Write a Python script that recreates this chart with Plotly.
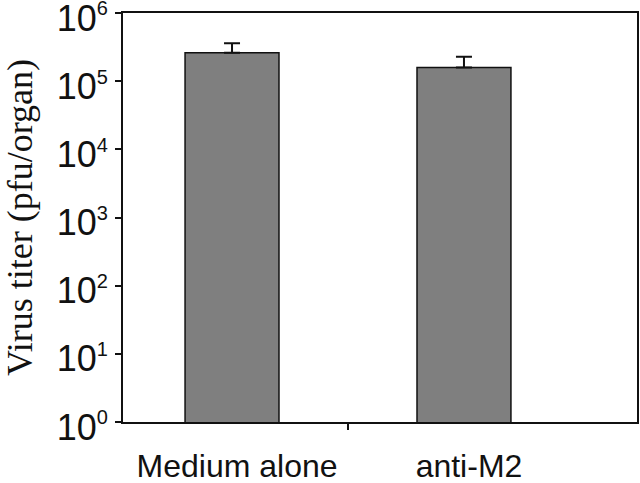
import plotly.graph_objects as go

categories = ["Medium alone", "anti-M2"]
x_pos = [0, 1]
titers = [2.62e5, 1.58e5]
errors = [0.98e5, 0.70e5]
y_tickvals = [1, 10, 100, 1000, 10000, 100000, 1000000]
y_ticktext = ["10<sup><span style='font-size:20px'>%d</span></sup>" % i for i in range(7)]

fig = go.Figure()
fig.add_trace(go.Bar(
    x=x_pos, y=titers, width=0.405,
    marker=dict(color="#7f7f7f", line=dict(color="#111111", width=1.5)),
    error_y=dict(type="data", array=errors, arrayminus=[0, 0], symmetric=False,
                 color="#111111", thickness=2, width=8),
))

fig.update_layout(
    width=640, height=483,
    margin=dict(l=123, r=3, t=13, b=61),
    paper_bgcolor="white", plot_bgcolor="white",
    showlegend=False,
    font=dict(family="Liberation Sans, Arial", color="#111111"),
)
fig.update_xaxes(
    range=[-0.47, 1.746], tickvals=x_pos, ticktext=categories,
    ticks="", tickfont=dict(size=32), showline=True, linecolor="#111111",
    linewidth=2, mirror=True, showgrid=False, zeroline=False,
    minor=dict(tickvals=[0.5], ticks="outside", ticklen=6, tickcolor="#111111", tickwidth=1.5),
    ticklabelstandoff=15, ticklabelshift=5, automargin=False, ticklabeloverflow="allow",
)
fig.update_yaxes(
    type="log", range=[0, 6], tickvals=y_tickvals, ticktext=y_ticktext,
    ticks="outside", ticklen=6, tickwidth=1.5, tickcolor="#111111",
    tickfont=dict(size=36), showline=True, linecolor="#111111", linewidth=2,
    mirror=True, showgrid=False, zeroline=False, automargin=False,
    ticklabeloverflow="allow", ticklabelshift=5,
    title=dict(text="Virus titer (pfu/organ)", font=dict(family="Liberation Serif, Times New Roman", size=36), standoff=18),
)
fig.write_html("out.html", post_script="document.body.style.margin='0';",
               config={"displayModeBar": False})
